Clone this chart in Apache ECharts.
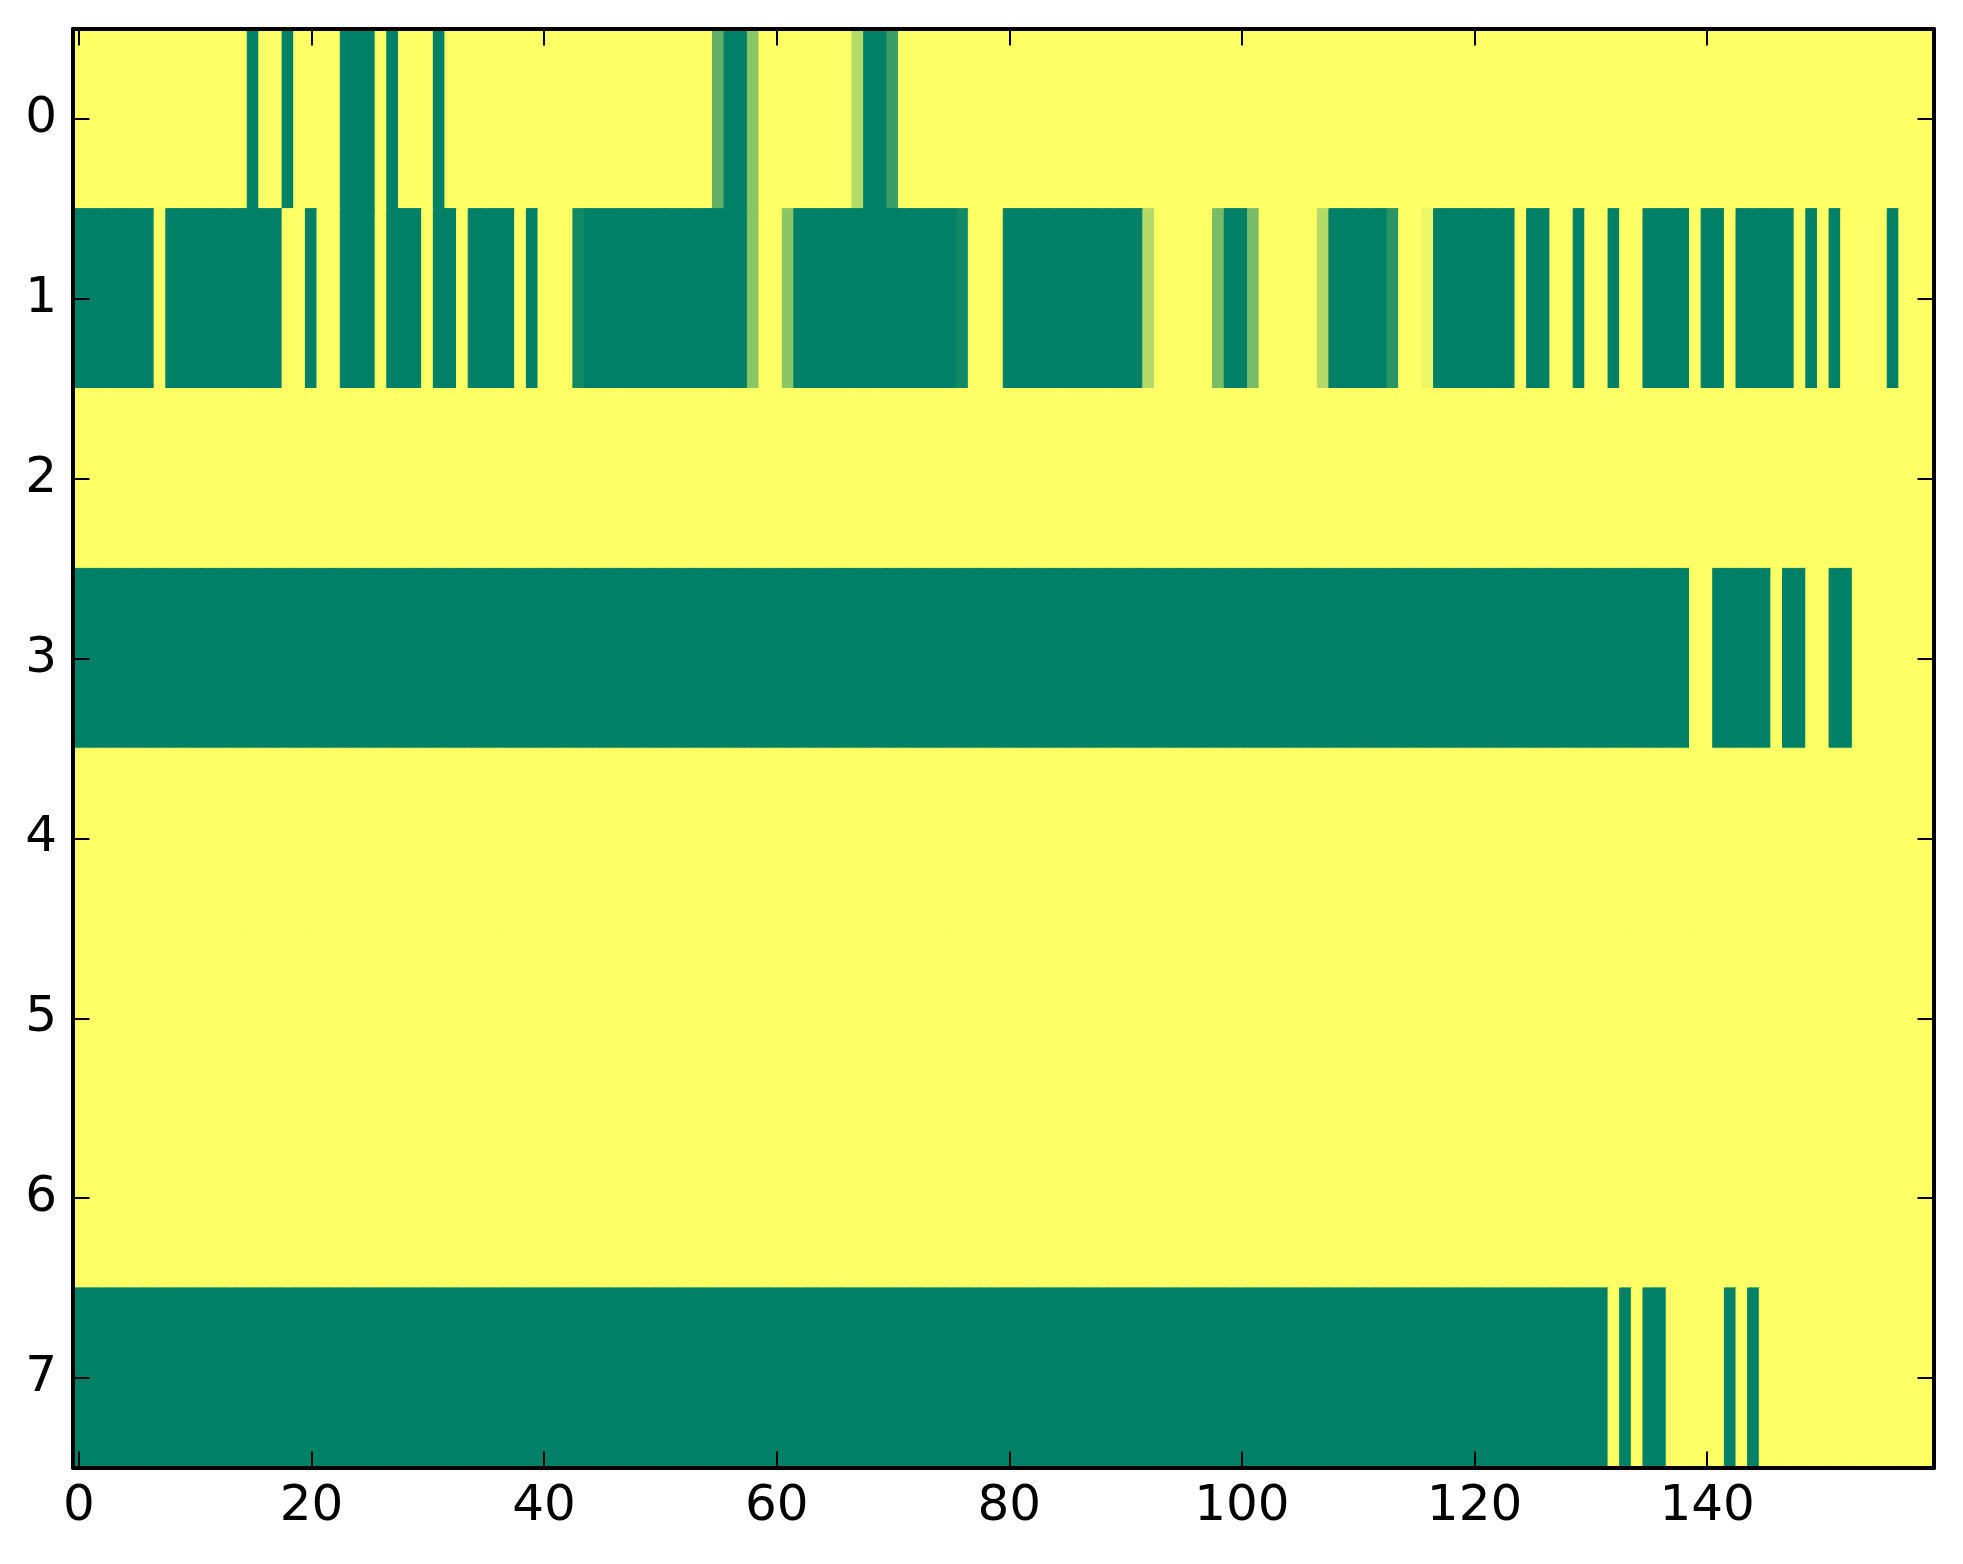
<!DOCTYPE html>
<html>
<head>
<meta charset="utf-8">
<script src="https://cdn.jsdelivr.net/npm/echarts@6/dist/echarts.min.js"></script>
<style>
html,body{margin:0;padding:0;background:#fff;}
#c{width:1963px;height:1564px;}
</style>
</head>
<body>
<div id="c"></div>
<script>
// Column categories 0..159 and row categories 0..7
var xCats = [];
for (var i = 0; i < 160; i++) xCats.push(String(i));
var yCats = ['0','1','2','3','4','5','6','7'];
var xTickStep = 20;
var colorStops = ['#ffff66', '#008066'];

// Cell values per row (0 = yellow, 1 = green), 160 columns each
var row0 = [
 0,0,0,0,0,0,0,0,0,0, 0,0,0,0,0,1,0,0,1,0,
 0,0,0,1,1,1,0,1,0,0, 0,1,0,0,0,0,0,0,0,0,
 0,0,0,0,0,0,0,0,0,0, 0,0,0,0,0,0.62,1,1,0.46,0,
 0,0,0,0,0,0,0,0.3,1,1, 0.77,0,0,0,0,0,0,0,0,0,
 0,0,0,0,0,0,0,0,0,0, 0,0,0,0,0,0,0,0,0,0,
 0,0,0,0,0,0,0,0,0,0, 0,0,0,0,0,0,0,0,0,0,
 0,0,0,0,0,0,0,0,0,0, 0,0,0,0,0,0,0,0,0,0,
 0,0,0,0,0,0,0,0,0,0, 0,0,0,0,0,0,0,0,0,0
];
var row1 = [
 1,1,1,1,1,1,1,0,1,1, 1,1,1,1,1,1,1,1,0,0,
 1,0,0,1,1,1,0,1,1,1, 0,1,1,0,1,1,1,1,0,1,
 0,0,0,0.93,1,1,1,1,1,1, 1,1,1,1,1,1,1,1,0.46,0,
 0,0.46,1,1,1,1,1,1,1,1, 1,1,1,1,1,1,0.93,0,0,0,
 1,1,1,1,1,1,1,1,1,1, 1,1,0.3,0,0,0,0,0,0.53,1,
 1,0.53,0,0,0,0,0,0.3,1,1, 1,1,1,0.84,0,0,0.07,1,1,1,
 1,1,1,1,0,1,1,0,0,1, 0,0,1,0,0,1,1,1,1,0,
 1,1,0,1,1,1,1,1,0,1, 0,1,0,0,0,0,1,0,0,0
];
var row2 = [
 0,0,0,0,0,0,0,0,0,0, 0,0,0,0,0,0,0,0,0,0,
 0,0,0,0,0,0,0,0,0,0, 0,0,0,0,0,0,0,0,0,0,
 0,0,0,0,0,0,0,0,0,0, 0,0,0,0,0,0,0,0,0,0,
 0,0,0,0,0,0,0,0,0,0, 0,0,0,0,0,0,0,0,0,0,
 0,0,0,0,0,0,0,0,0,0, 0,0,0,0,0,0,0,0,0,0,
 0,0,0,0,0,0,0,0,0,0, 0,0,0,0,0,0,0,0,0,0,
 0,0,0,0,0,0,0,0,0,0, 0,0,0,0,0,0,0,0,0,0,
 0,0,0,0,0,0,0,0,0,0, 0,0,0,0,0,0,0,0,0,0
];
var row3 = [
 1,1,1,1,1,1,1,1,1,1, 1,1,1,1,1,1,1,1,1,1,
 1,1,1,1,1,1,1,1,1,1, 1,1,1,1,1,1,1,1,1,1,
 1,1,1,1,1,1,1,1,1,1, 1,1,1,1,1,1,1,1,1,1,
 1,1,1,1,1,1,1,1,1,1, 1,1,1,1,1,1,1,1,1,1,
 1,1,1,1,1,1,1,1,1,1, 1,1,1,1,1,1,1,1,1,1,
 1,1,1,1,1,1,1,1,1,1, 1,1,1,1,1,1,1,1,1,1,
 1,1,1,1,1,1,1,1,1,1, 1,1,1,1,1,1,1,1,1,0,
 0,1,1,1,1,1,0,1,1,0, 0,1,1,0,0,0,0,0,0,0
];
var row4 = [
 0,0,0,0,0,0,0,0,0,0, 0,0,0,0,0,0,0,0,0,0,
 0,0,0,0,0,0,0,0,0,0, 0,0,0,0,0,0,0,0,0,0,
 0,0,0,0,0,0,0,0,0,0, 0,0,0,0,0,0,0,0,0,0,
 0,0,0,0,0,0,0,0,0,0, 0,0,0,0,0,0,0,0,0,0,
 0,0,0,0,0,0,0,0,0,0, 0,0,0,0,0,0,0,0,0,0,
 0,0,0,0,0,0,0,0,0,0, 0,0,0,0,0,0,0,0,0,0,
 0,0,0,0,0,0,0,0,0,0, 0,0,0,0,0,0,0,0,0,0,
 0,0,0,0,0,0,0,0,0,0, 0,0,0,0,0,0,0,0,0,0
];
var row5 = [
 0,0,0,0,0,0,0,0,0,0, 0,0,0,0,0,0,0,0,0,0,
 0,0,0,0,0,0,0,0,0,0, 0,0,0,0,0,0,0,0,0,0,
 0,0,0,0,0,0,0,0,0,0, 0,0,0,0,0,0,0,0,0,0,
 0,0,0,0,0,0,0,0,0,0, 0,0,0,0,0,0,0,0,0,0,
 0,0,0,0,0,0,0,0,0,0, 0,0,0,0,0,0,0,0,0,0,
 0,0,0,0,0,0,0,0,0,0, 0,0,0,0,0,0,0,0,0,0,
 0,0,0,0,0,0,0,0,0,0, 0,0,0,0,0,0,0,0,0,0,
 0,0,0,0,0,0,0,0,0,0, 0,0,0,0,0,0,0,0,0,0
];
var row6 = [
 0,0,0,0,0,0,0,0,0,0, 0,0,0,0,0,0,0,0,0,0,
 0,0,0,0,0,0,0,0,0,0, 0,0,0,0,0,0,0,0,0,0,
 0,0,0,0,0,0,0,0,0,0, 0,0,0,0,0,0,0,0,0,0,
 0,0,0,0,0,0,0,0,0,0, 0,0,0,0,0,0,0,0,0,0,
 0,0,0,0,0,0,0,0,0,0, 0,0,0,0,0,0,0,0,0,0,
 0,0,0,0,0,0,0,0,0,0, 0,0,0,0,0,0,0,0,0,0,
 0,0,0,0,0,0,0,0,0,0, 0,0,0,0,0,0,0,0,0,0,
 0,0,0,0,0,0,0,0,0,0, 0,0,0,0,0,0,0,0,0,0
];
var row7 = [
 1,1,1,1,1,1,1,1,1,1, 1,1,1,1,1,1,1,1,1,1,
 1,1,1,1,1,1,1,1,1,1, 1,1,1,1,1,1,1,1,1,1,
 1,1,1,1,1,1,1,1,1,1, 1,1,1,1,1,1,1,1,1,1,
 1,1,1,1,1,1,1,1,1,1, 1,1,1,1,1,1,1,1,1,1,
 1,1,1,1,1,1,1,1,1,1, 1,1,1,1,1,1,1,1,1,1,
 1,1,1,1,1,1,1,1,1,1, 1,1,1,1,1,1,1,1,1,1,
 1,1,1,1,1,1,1,1,1,1, 1,1,0,1,0,1,1,0,0,0,
 0,0,1,0,1,0,0,0,0,0, 0,0,0,0,0,0,0,0,0,0
];
var rows = [row0, row1, row2, row3, row4, row5, row6, row7];

// Build heatmap items; a thin border in the cell's own colour hides anti-aliasing seams
var data = [];
for (var r = 0; r < rows.length; r++) {
  for (var c = 0; c < rows[r].length; c++) {
    var v = rows[r][c];
    data.push({
      value: [c, r, v],
      itemStyle: {borderColor: echarts.color.lerp(v, colorStops), borderWidth: 1}
    });
  }
}

var FONT = 'DejaVu Sans';
var lineStyle = {color: '#000', width: 4};
var tickStyle = {color: '#000', width: 2};
function xTickFn(i) { return i % xTickStep === 0; }

var chart = echarts.init(document.getElementById('c'), null, {renderer: 'canvas'});
chart.setOption({
  backgroundColor: '#ffffff',
  animation: false,
  grid: {left: 73, right: 29, top: 29, bottom: 96, containLabel: false},
  xAxis: [
    {type: 'category', data: xCats, position: 'bottom', z: 5,
     axisLine: {show: true, onZero: false, lineStyle: lineStyle},
     axisTick: {show: true, inside: true, length: 16.5, alignWithLabel: true, interval: xTickFn, lineStyle: tickStyle},
     axisLabel: {show: true, interval: xTickFn, fontSize: 50, fontFamily: FONT, color: '#000', margin: 14},
     splitLine: {show: false}},
    {type: 'category', data: xCats, position: 'top', z: 5,
     axisLine: {show: true, onZero: false, lineStyle: lineStyle},
     axisTick: {show: true, inside: true, length: 16.5, alignWithLabel: true, interval: xTickFn, lineStyle: tickStyle},
     axisLabel: {show: false},
     splitLine: {show: false}}
  ],
  yAxis: [
    {type: 'category', data: yCats, inverse: true, position: 'left', z: 5,
     axisLine: {show: true, onZero: false, lineStyle: lineStyle},
     axisTick: {show: true, inside: true, length: 16.5, alignWithLabel: true, interval: 0, lineStyle: tickStyle},
     axisLabel: {show: true, interval: 0, fontSize: 50, fontFamily: FONT, color: '#000', margin: 16},
     splitLine: {show: false}},
    {type: 'category', data: yCats, inverse: true, position: 'right', z: 5,
     axisLine: {show: true, onZero: false, lineStyle: lineStyle},
     axisTick: {show: true, inside: true, length: 16.5, alignWithLabel: true, interval: 0, lineStyle: tickStyle},
     axisLabel: {show: false},
     splitLine: {show: false}}
  ],
  visualMap: {
    type: 'continuous', show: false, min: 0, max: 1, dimension: 2,
    seriesIndex: 0,
    inRange: {color: colorStops}
  },
  series: [{
    type: 'heatmap',
    xAxisIndex: 0, yAxisIndex: 0,
    data: data,
    progressive: 0,
    emphasis: {disabled: true}
  }]
});
</script>
</body>
</html>
